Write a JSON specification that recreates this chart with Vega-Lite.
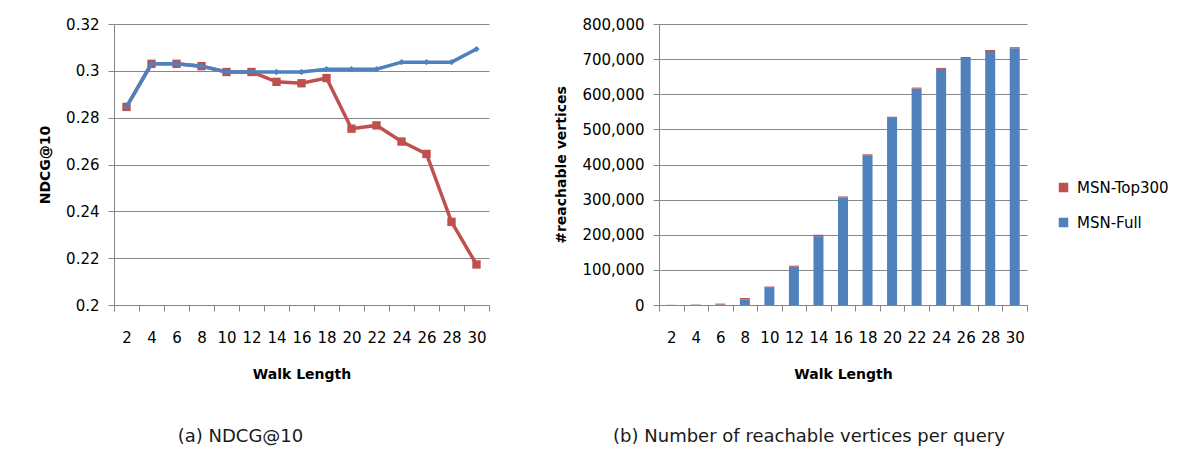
{
  "$schema": "https://vega.github.io/schema/vega-lite/v6.json",
  "padding": {"left": 38, "top": 17, "right": 0, "bottom": 0},
  "background": "white",
  "spacing": 64,
  "resolve": {"scale": {"color": "independent"}, "legend": {"color": "independent"}},
  "config": {
    "view": {"stroke": null},
    "font": "DejaVu Sans",
    "axis": {
      "labelFont": "DejaVu Sans",
      "labelFontSize": 15,
      "labelColor": "#000000",
      "titleFont": "DejaVu Sans",
      "titleFontSize": 14,
      "titleFontWeight": "bold",
      "titleColor": "#000000",
      "domainColor": "#868686",
      "tickColor": "#868686",
      "gridColor": "#868686",
      "tickSize": 6,
      "domainWidth": 1,
      "gridWidth": 1
    },
    "title": {
      "font": "DejaVu Sans",
      "fontSize": 18,
      "fontWeight": "normal",
      "color": "#1a1a1a"
    }
  },
  "datasets": {
    "ndcg": [
      {"walk": 2, "series": "MSN-Top300", "ndcg": 0.2846},
      {"walk": 4, "series": "MSN-Top300", "ndcg": 0.3030},
      {"walk": 6, "series": "MSN-Top300", "ndcg": 0.3030},
      {"walk": 8, "series": "MSN-Top300", "ndcg": 0.3020},
      {"walk": 10, "series": "MSN-Top300", "ndcg": 0.2995},
      {"walk": 12, "series": "MSN-Top300", "ndcg": 0.2995},
      {"walk": 14, "series": "MSN-Top300", "ndcg": 0.2953},
      {"walk": 16, "series": "MSN-Top300", "ndcg": 0.2947},
      {"walk": 18, "series": "MSN-Top300", "ndcg": 0.2969},
      {"walk": 20, "series": "MSN-Top300", "ndcg": 0.2753},
      {"walk": 22, "series": "MSN-Top300", "ndcg": 0.2767},
      {"walk": 24, "series": "MSN-Top300", "ndcg": 0.2698},
      {"walk": 26, "series": "MSN-Top300", "ndcg": 0.2645},
      {"walk": 28, "series": "MSN-Top300", "ndcg": 0.2355},
      {"walk": 30, "series": "MSN-Top300", "ndcg": 0.2173},
      {"walk": 2, "series": "MSN-Full", "ndcg": 0.2846},
      {"walk": 4, "series": "MSN-Full", "ndcg": 0.3030},
      {"walk": 6, "series": "MSN-Full", "ndcg": 0.3030},
      {"walk": 8, "series": "MSN-Full", "ndcg": 0.3020},
      {"walk": 10, "series": "MSN-Full", "ndcg": 0.2995},
      {"walk": 12, "series": "MSN-Full", "ndcg": 0.2995},
      {"walk": 14, "series": "MSN-Full", "ndcg": 0.2995},
      {"walk": 16, "series": "MSN-Full", "ndcg": 0.2995},
      {"walk": 18, "series": "MSN-Full", "ndcg": 0.3007},
      {"walk": 20, "series": "MSN-Full", "ndcg": 0.3007},
      {"walk": 22, "series": "MSN-Full", "ndcg": 0.3007},
      {"walk": 24, "series": "MSN-Full", "ndcg": 0.3037},
      {"walk": 26, "series": "MSN-Full", "ndcg": 0.3037},
      {"walk": 28, "series": "MSN-Full", "ndcg": 0.3037},
      {"walk": 30, "series": "MSN-Full", "ndcg": 0.3093}
    ],
    "reach": [
      {"walk": 2, "series": "MSN-Full", "count": 300},
      {"walk": 4, "series": "MSN-Full", "count": 800},
      {"walk": 6, "series": "MSN-Full", "count": 1500},
      {"walk": 8, "series": "MSN-Full", "count": 16000},
      {"walk": 10, "series": "MSN-Full", "count": 49000},
      {"walk": 12, "series": "MSN-Full", "count": 109000},
      {"walk": 14, "series": "MSN-Full", "count": 196000},
      {"walk": 16, "series": "MSN-Full", "count": 306000},
      {"walk": 18, "series": "MSN-Full", "count": 426000},
      {"walk": 20, "series": "MSN-Full", "count": 533000},
      {"walk": 22, "series": "MSN-Full", "count": 616000},
      {"walk": 24, "series": "MSN-Full", "count": 672000},
      {"walk": 26, "series": "MSN-Full", "count": 703000},
      {"walk": 28, "series": "MSN-Full", "count": 723000},
      {"walk": 30, "series": "MSN-Full", "count": 731000},
      {"walk": 2, "series": "MSN-Top300", "count": 200},
      {"walk": 4, "series": "MSN-Top300", "count": 500},
      {"walk": 6, "series": "MSN-Top300", "count": 2500},
      {"walk": 8, "series": "MSN-Top300", "count": 4000},
      {"walk": 10, "series": "MSN-Top300", "count": 3500},
      {"walk": 12, "series": "MSN-Top300", "count": 3000},
      {"walk": 14, "series": "MSN-Top300", "count": 4000},
      {"walk": 16, "series": "MSN-Top300", "count": 3000},
      {"walk": 18, "series": "MSN-Top300", "count": 3000},
      {"walk": 20, "series": "MSN-Top300", "count": 3000},
      {"walk": 22, "series": "MSN-Top300", "count": 3000},
      {"walk": 24, "series": "MSN-Top300", "count": 3000},
      {"walk": 26, "series": "MSN-Top300", "count": 3000},
      {"walk": 28, "series": "MSN-Top300", "count": 3000},
      {"walk": 30, "series": "MSN-Top300", "count": 3000}
    ]
  },
  "hconcat": [
    {
      "width": 375,
      "height": 281,
      "title": {"text": "(a) NDCG@10", "orient": "bottom", "anchor": "middle", "frame": "group", "dx": -61, "offset": 47},
      "data": {"name": "ndcg"},
      "encoding": {
        "x": {
          "field": "walk", "type": "ordinal", "bandPosition": 0.5,
          "scale": {"type": "band", "paddingInner": 0, "paddingOuter": 0},
          "axis": {"title": "Walk Length", "labelAngle": 0, "tickBand": "extent", "labelPadding": 19, "titlePadding": 22, "grid": false}
        },
        "y": {
          "field": "ndcg", "type": "quantitative",
          "scale": {"domain": [0.2, 0.32], "nice": false, "zero": false},
          "axis": {"title": "NDCG@10", "values": [0.2, 0.22, 0.24, 0.26, 0.28, 0.3, 0.32], "format": ".2~f", "grid": true, "labelPadding": 9, "titlePadding": 13}
        },
        "color": {
          "field": "series", "type": "nominal",
          "scale": {"domain": ["MSN-Top300", "MSN-Full"], "range": ["#C0504D", "#4F81BD"]},
          "legend": null
        }
      },
      "layer": [
        {"transform": [{"filter": "datum.series === 'MSN-Top300'"}], "mark": {"type": "line", "strokeWidth": 3.5}},
        {"transform": [{"filter": "datum.series === 'MSN-Top300'"}], "mark": {"type": "point", "shape": "square", "filled": true, "size": 70, "opacity": 1}},
        {"transform": [{"filter": "datum.series === 'MSN-Full'"}], "mark": {"type": "line", "strokeWidth": 3.5}},
        {"transform": [{"filter": "datum.series === 'MSN-Full'"}], "mark": {"type": "point", "shape": "diamond", "filled": true, "size": 40, "opacity": 1}}
      ]
    },
    {
      "width": 368,
      "height": 281,
      "title": {"text": "(b) Number of reachable vertices per query", "orient": "bottom", "anchor": "middle", "frame": "group", "dx": -34, "offset": 47},
      "data": {"name": "reach"},
      "mark": {"type": "bar", "size": 10},
      "encoding": {
        "x": {
          "field": "walk", "type": "ordinal",
          "scale": {"type": "band", "paddingInner": 0, "paddingOuter": 0},
          "axis": {"title": "Walk Length", "labelAngle": 0, "tickBand": "extent", "labelPadding": 19, "titlePadding": 22, "grid": false}
        },
        "y": {
          "field": "count", "type": "quantitative", "stack": "zero",
          "scale": {"domain": [0, 800000], "nice": false},
          "axis": {"title": "#reachable vertices", "values": [0, 100000, 200000, 300000, 400000, 500000, 600000, 700000, 800000], "format": ",d", "grid": true, "labelPadding": 9, "titlePadding": 13}
        },
        "color": {
          "field": "series", "type": "nominal",
          "scale": {"domain": ["MSN-Top300", "MSN-Full"], "range": ["#C0504D", "#4F81BD"]},
          "legend": {"title": null, "orient": "none", "legendX": 397, "legendY": 156, "symbolType": "square", "symbolSize": 90, "symbolStrokeWidth": 0, "labelFont": "DejaVu Sans", "labelFontSize": 15, "labelColor": "#000000", "rowPadding": 19, "padding": 0, "labelOffset": 6}
        },
        "order": {"field": "series", "sort": "ascending"}
      }
    }
  ]
}
